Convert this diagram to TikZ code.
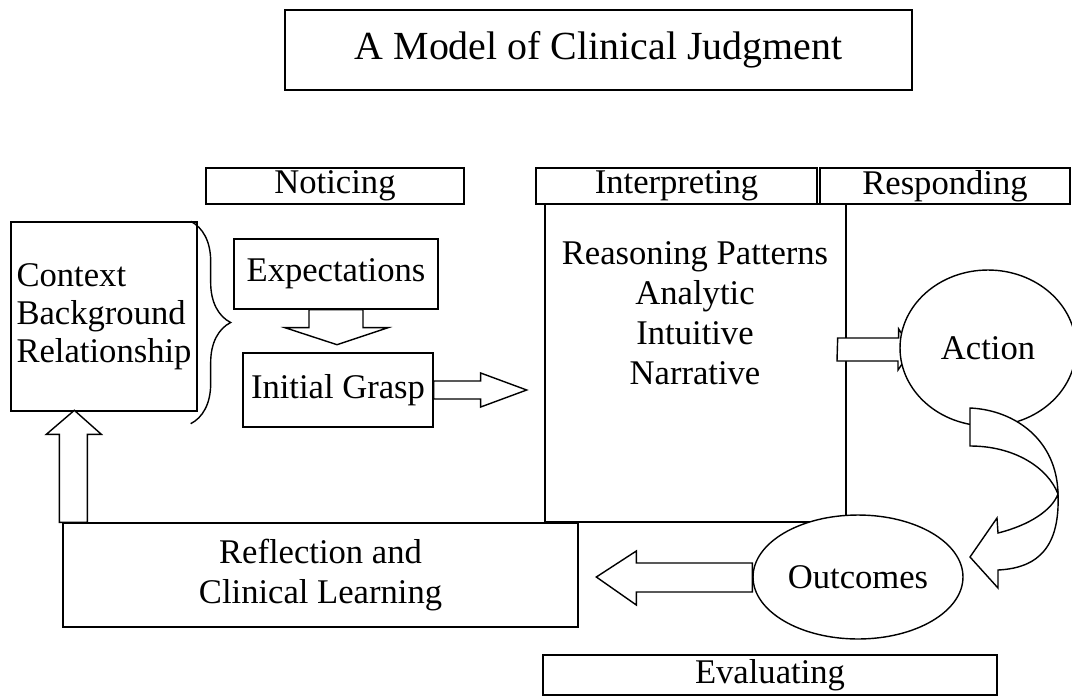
\documentclass[tikz,border=0pt]{standalone}
\usepackage{fontspec}
\setmainfont{Liberation Serif}
\usepackage{tikz}
\usetikzlibrary{shapes.geometric, positioning, calc, decorations.pathreplacing}
\newcommand{\boxfont}{\fontsize{19.7}{22.7}\selectfont}
\newcommand{\headfont}{\fontsize{22.7}{26}\selectfont}

\begin{document}
\begin{tikzpicture}[
    x=0.02cm, y=-0.02cm,
    line width=0.8pt,
    box/.style={rectangle, draw, inner sep=0pt, font=\boxfont},
    stage/.style={rectangle, draw, inner sep=0pt, minimum height=0.72cm, font=\boxfont},
    oval/.style={ellipse, draw, fill=white, inner sep=0pt, font=\boxfont},
    blockarr/.style={draw, fill=white, line join=miter}
]
    \useasboundingbox (0,0) rectangle (1072,697);

    % Title
    \node[box, minimum width=12.54cm, minimum height=1.6cm, font=\headfont] (title) at (598.5,50) {A Model of Clinical Judgment};

    % Stages
    \node[stage, minimum width=5.16cm] (notice) at (335,186) {Noticing};
    \node[stage, minimum width=5.62cm] (interp) at (676.5,186) {Interpreting};
    \node[stage, minimum width=5.0cm] (respond) at (945,186) {Responding};
    \node[stage, minimum width=9.08cm, minimum height=0.8cm] (evaluate) at (770,675) {Evaluating};

    % Boxes
    \node[box, minimum width=3.72cm, minimum height=3.78cm, align=left, font=\fontsize{19.7}{21.5}\selectfont] (ctx) at (104,316.5) {Context\\Background\\Relationship};
    \node[box, minimum width=4.08cm, minimum height=1.4cm] (expect) at (336,274) {Expectations};
    \node[box, minimum width=3.8cm, minimum height=1.48cm] (grasp) at (338,390) {Initial Grasp};
    \node[box, minimum width=6.02cm, minimum height=6.36cm] (reason) at (695.5,363) {};
    \node[align=center, font=\boxfont] (patterns) at (695,313) {Reasoning Patterns\\Analytic\\Intuitive\\Narrative};
    \node[box, minimum width=10.3cm, minimum height=2.08cm, align=center] (reflect) at (320.5,575) {Reflection and\\Clinical Learning};

    % Brace
    \draw[decorate, decoration={brace, amplitude=0.8cm}] ($(ctx.north east)+(-7,0)$) -- ($(ctx.south east)+(-7,12)$);

    % Block arrows
    \draw[blockarr] ($(expect.south)+(-27,0)$) -- ++(0,18) -- ++(-24,0) -- ++(52,17) -- ++(51,-17) -- ++(-25,0) -- ++(0,-18) -- cycle;
    \draw[blockarr] ($(grasp.east)+(0,-9)$) -- ++(47,0) -- ++(0,-8) -- ++(46,17) -- ++(-46,17) -- ++(0,-8) -- ++(-47,0) -- cycle;
    \coordinate (actin) at (912,349.5);
    \draw[blockarr] ($(reason.east |- actin)+(-9,-11.5)$) -- ++(61,0) -- ++(0,-9) -- (actin) -- ++(-14,20.5) -- ++(0,-9) -- ++(-61,0) -- cycle;

    % Ovals
    \node[oval, minimum width=3.52cm, minimum height=3.12cm] (action) at (988,348) {Action};
    \node[oval, minimum width=4.2cm, minimum height=2.48cm] (outc) at (858,577) {Outcomes};

    % Curved arrow
    \begin{scope}[shift={(action.center)}]
        \draw[blockarr] (-18,60) .. controls (27,62) and (69,92) .. (70,146) .. controls (60,120) and (27,98) .. (-18,98) -- cycle;
        \draw[blockarr] (70,146) .. controls (72,197) and (52,220) .. (10,222) -- (10,240) -- (-18,209) -- (9,170) -- (10,185) .. controls (42,177) and (64,162) .. (70,146) -- cycle;
    \end{scope}

    % Back to reflection and context
    \draw[blockarr] ($(outc.west)+(0,-14)$) -- ++(-116,0) -- ++(0,-12) -- ++(-40,26) -- ++(40,28) -- ++(0,-13) -- ++(116,0) -- cycle;
    \draw[blockarr] ($(reflect.north west)+(-3,0)$) -- ++(0,-88) -- ++(-13,0) -- ++(28,-24) -- ++(27,24) -- ++(-14,0) -- ++(0,88) -- cycle;

\end{tikzpicture}
\end{document}
